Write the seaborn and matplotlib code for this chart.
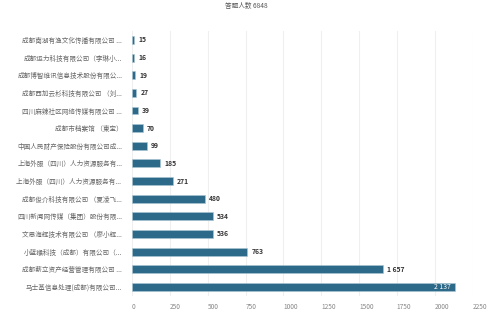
import seaborn as sns
import matplotlib.pyplot as plt
import pandas as pd

companies = [
    "成都南湖有渔文化传播有限公司 ...",
    "成都运力科技有限公司（李琳小...",
    "成都博智维讯信息技术股份有限公...",
    "成都西加云杉科技有限公司 （刘...",
    "四川麻辣社区网络传媒有限公司 ...",
    "成都市档案馆 （東宝）",
    "中国人民财产保险股份有限公司成...",
    "上海外服（四川）人力资源服务有...",
    "上海外服（四川）人力资源服务有... ",
    "成都俊介科技有限公司 （夏凌飞...",
    "四川新闻网传媒（集团）股份有限...",
    "文思海辉技术有限公司 （廖小辉...",
    "小蓝猴科技（成都）有限公司（...",
    "成都薪立资产经营管理有限公司 ...",
    "马士基信息处理(成都)有限公司...",
]
counts = [15, 16, 19, 27, 39, 70, 99, 185, 271, 480, 534, 536, 763, 1657, 2137]
x_ticks = [0, 250, 500, 750, 1000, 1250, 1500, 1750, 2000, 2250]
title = "答题人数 6848"

df = pd.DataFrame({"company": companies, "count": counts})

sns.set_style("white")
plt.rcParams["font.family"] = ["Noto Sans CJK SC", "DejaVu Sans"]

fig = plt.figure(figsize=(5, 3.17), dpi=100)
ax = fig.add_axes([0.264, 0.067, 0.681, 0.835])

sns.barplot(data=df, x="count", y="company", orient="h", color="#2d6a89",
            width=0.45, edgecolor="#a9c6d4", linewidth=0.4, saturation=1, ax=ax)

ax.set_xlim(0, 2250)
ax.set_xticks(x_ticks)
ax.set_xticklabels([str(t) for t in x_ticks], ha="left")
ax.grid(axis="x", color="#efefef", linewidth=0.8)
ax.set_axisbelow(True)
sns.despine(ax=ax, left=True, bottom=True)
ax.tick_params(axis="x", length=0, pad=5, labelsize=4.7, labelcolor="#888888")
ax.tick_params(axis="y", length=0, pad=7, labelsize=4.75, labelcolor="#666666")
ax.set_xlabel("")
ax.set_ylabel("")

def fmt(v):
    return f"{v:,}".replace(",", " ")

for i, v in enumerate(counts):
    if v > 2000:
        ax.annotate(fmt(v), (v, i), xytext=(-3, 0), textcoords="offset points",
                    ha="right", va="center", fontsize=4.9, color="white")
    else:
        ax.annotate(fmt(v), (v, i), xytext=(3, 0), textcoords="offset points",
                    ha="left", va="center", fontsize=4.9, color="#333333",
                    fontweight="bold")

fig.text(0.493, 0.982, title, ha="center", va="center", fontsize=4.8, color="#555555")

plt.savefig("out.png", dpi=100)
